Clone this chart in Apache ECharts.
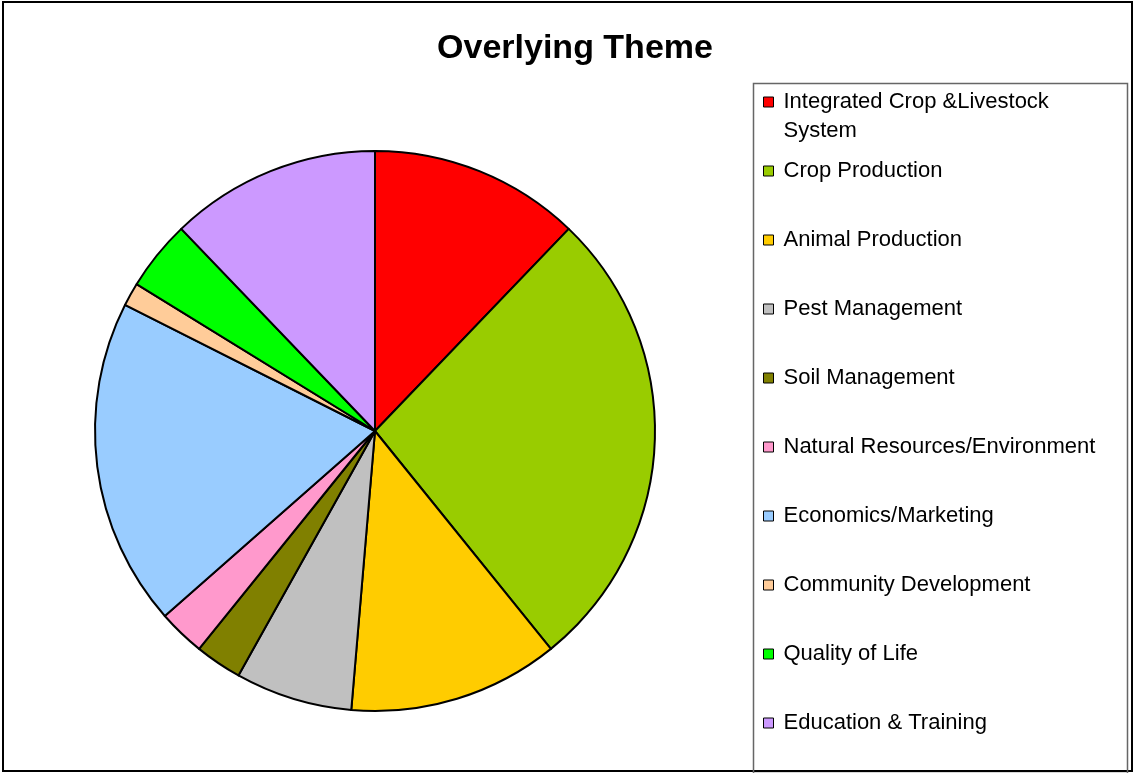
<!DOCTYPE html>
<html>
<head>
<meta charset="utf-8">
<title>Overlying Theme</title>
<script src="https://cdn.jsdelivr.net/npm/echarts@6/dist/echarts.min.js"></script>
<style>
  html, body { margin: 0; padding: 0; background: #fff; }
  #chart { width: 1134px; height: 773px; }
</style>
</head>
<body>
<div id="chart"></div>
<script>
// 数据
const themes = [
  'Integrated Crop &Livestock System',
  'Crop Production',
  'Animal Production',
  'Pest Management',
  'Soil Management',
  'Natural Resources/Environment',
  'Economics/Marketing',
  'Community Development',
  'Quality of Life',
  'Education & Training'
]
const counts = [9, 20, 9, 5, 2, 2, 14, 1, 3, 9]
const colors = ['#FF0000', '#99CC00', '#FFCC00', '#C0C0C0', '#808000',
  '#FF99CC', '#99CCFF', '#FFCC99', '#00FF00', '#CC99FF']

const chart = echarts.init(document.getElementById('chart'))

const fontFamily = 'Liberation Sans, Arial, sans-serif'

// 图例公共样式
const legendBase = {
  orient: 'vertical',
  left: 763,
  padding: 0,
  itemGap: 40,
  itemWidth: 10,
  itemHeight: 10,
  icon: 'rect',
  selectedMode: false,
  itemStyle: {
    borderColor: '#000',
    borderWidth: 1
  },
  textStyle: {
    fontFamily: fontFamily,
    fontSize: 22,
    color: '#000',
    lineHeight: 29,
    padding: [0, 0, 0, 5]
  }
}

const option = {
  animation: false,
  color: colors,
  title: {
    text: 'Overlying Theme',
    left: 570,
    top: 27,
    textAlign: 'center',
    textStyle: {
      fontFamily: fontFamily,
      fontSize: 34,
      fontWeight: 'bold',
      color: '#000'
    }
  },
  legend: [
    // 第一项两行显示，前面加空行让图标对齐第一行
    Object.assign({}, legendBase, {
      top: 58.5,
      formatter: function () {
        return '\nIntegrated Crop &Livestock\nSystem'
      },
      data: themes.slice(0, 1)
    }),
    Object.assign({}, legendBase, {
      top: 156.5,
      data: themes.slice(1)
    })
  ],
  graphic: [
    {
      type: 'rect',
      shape: { x: 3, y: 2, width: 1129, height: 769 },
      style: { fill: 'none', stroke: '#000', lineWidth: 2 },
      silent: true
    },
    {
      type: 'rect',
      shape: { x: 753.5, y: 83.5, width: 374, height: 690 },
      style: { fill: 'none', stroke: '#666', lineWidth: 1.5 },
      silent: true
    }
  ],
  series: [
    {
      name: 'Overlying Theme',
      type: 'pie',
      center: [375, 431],
      radius: 280,
      startAngle: 90,
      clockwise: true,
      minAngle: 0,
      avoidLabelOverlap: false,
      label: { show: false },
      labelLine: { show: false },
      emphasis: { disabled: true },
      itemStyle: {
        borderColor: '#000',
        borderWidth: 2
      },
      data: themes.map((name, i) => ({ name: name, value: counts[i] }))
    }
  ]
}

chart.setOption(option)
</script>
</body>
</html>
